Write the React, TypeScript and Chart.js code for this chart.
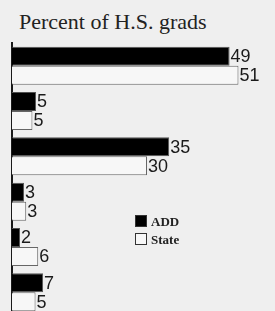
import React, { useEffect, useRef } from "react";
import { Chart, registerables } from "chart.js";

Chart.register(...registerables);

const categories = ["A", "B", "C", "D", "E", "F"];
const addValues = [49, 5.4, 35.4, 2.7, 1.8, 7.0];
const stateValues = [51, 4.6, 30.4, 3.2, 5.9, 5.3];
const seriesNames = ["ADD", "State"];
const titleText = "Percent of H.S. grads";

const labelPlugin = {
  id: "barLabels",
  afterDatasetsDraw(chart: any) {
    const ctx = chart.ctx;
    ctx.save();
    ctx.font = "18px 'Liberation Sans', Arial, sans-serif";
    ctx.fillStyle = "#1a1a1a";
    ctx.textBaseline = "middle";
    ctx.textAlign = "left";
    chart.data.datasets.forEach((ds: any, i: number) => {
      const meta = chart.getDatasetMeta(i);
      meta.data.forEach((bar: any, j: number) => {
        const v = Math.round(ds.data[j]);
        ctx.fillText(String(v), bar.x + 1, bar.y + 1);
      });
    });
    ctx.restore();
  },
};

export default function App() {
  const ref = useRef<HTMLCanvasElement>(null);
  useEffect(() => {
    const chart = new Chart(ref.current!, {
      type: "bar",
      data: {
        labels: categories,
        datasets: [
          {
            label: seriesNames[0],
            data: addValues,
            backgroundColor: "#000000",
            borderColor: "#555555",
            borderWidth: 1,
          },
          {
            label: seriesNames[1],
            data: stateValues,
            backgroundColor: "#f7f7f7",
            borderColor: "#666666",
            borderWidth: 1,
          },
        ],
      },
      options: {
        indexAxis: "y",
        animation: false,
        responsive: false,
        maintainAspectRatio: false,
        layout: { padding: { left: 12, right: 1, top: 43, bottom: 1 } },
        datasets: { bar: { categoryPercentage: 0.84, barPercentage: 1 } },
        plugins: {
          legend: { display: false },
          title: { display: false },
          tooltip: { enabled: false },
        },
        scales: {
          x: {
            display: false,
            min: 0,
            max: 59,
          },
          y: {
            ticks: { display: false },
            grid: { display: false, drawTicks: false },
            border: { display: true, color: "#1a1a1a", width: 2 },
          },
        },
      },
      plugins: [labelPlugin],
    });
    return () => chart.destroy();
  }, []);

  const box = (fill: string) => ({
    display: "inline-block",
    width: 10,
    height: 10,
    background: fill,
    border: "1px solid #333",
    marginRight: 4,
    verticalAlign: "-1px",
  });

  return (
    <div
      style={{
        position: "fixed",
        left: 0,
        top: 0,
        width: 275,
        height: 316,
        background: "#efefef",
        overflow: "hidden",
      }}
    >
      <div
        style={{
          position: "absolute",
          left: 19,
          top: 9,
          fontFamily: "'Liberation Serif', 'DejaVu Serif', serif",
          fontSize: 22,
          color: "#222",
          whiteSpace: "nowrap",
        }}
      >
        {titleText}
      </div>
      <canvas ref={ref} width={275} height={316} style={{ position: "absolute", left: 0, top: 0 }} />
      <div
        style={{
          position: "absolute",
          left: 135,
          top: 213,
          fontFamily: "'Liberation Serif', 'DejaVu Serif', serif",
          fontWeight: "bold",
          fontSize: 13,
          color: "#222",
          lineHeight: "18px",
        }}
      >
        <div>
          <span style={box("#000")} />
          {seriesNames[0]}
        </div>
        <div>
          <span style={box("#f7f7f7")} />
          {seriesNames[1]}
        </div>
      </div>
    </div>
  );
}
